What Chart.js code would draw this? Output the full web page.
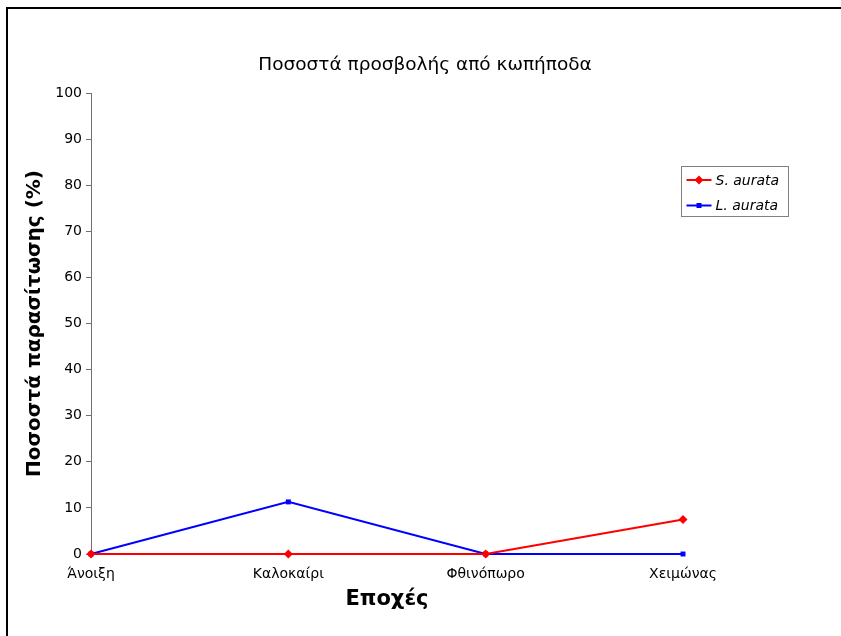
<!DOCTYPE html>
<html>
<head>
<meta charset="utf-8">
<script src="https://cdn.jsdelivr.net/npm/chart.js@4.4.1/dist/chart.umd.min.js"></script>
<style>
  html, body { margin: 0; padding: 0; background: #fff; overflow: hidden; }
  #wrap { position: relative; width: 841px; height: 636px; }
  #frame { position: absolute; left: 6px; top: 7px; width: 900px; height: 700px; border: 2px solid #000; }
  #chart { position: absolute; left: 0; top: 0; }
</style>
</head>
<body>
<div id="wrap">
  <div id="frame"></div>
  <canvas id="chart" width="841" height="636"></canvas>
</div>
<script>
const seasons = ['Άνοιξη', 'Καλοκαίρι', 'Φθινόπωρο', 'Χειμώνας'];
const sAurata = [0, 0, 0, 7.5];
const lAurata = [0, 11.3, 0, 0];
const seriesNames = ['S. aurata', 'L. aurata'];

const FONT = 'DejaVu Sans, Verdana, sans-serif';

// legend in a box at the right of the plot, like the excel one
const boxLegend = {
    id: 'boxLegend',
    afterDraw(chart) {
        const ctx = chart.ctx;
        const area = chart.chartArea;
        const x = area.right - 1.5, y = area.top + 73.5;
        const w = 107, h = 50;
        ctx.save();
        ctx.fillStyle = '#fff';
        ctx.fillRect(x, y, w, h);
        ctx.strokeStyle = '#808080';
        ctx.lineWidth = 1;
        ctx.strokeRect(x, y, w, h);
        chart.data.datasets.forEach((ds, i) => {
            const ly = y + 13.5 + i * 25.5;
            ctx.strokeStyle = ds.borderColor;
            ctx.lineWidth = 2;
            ctx.beginPath();
            ctx.moveTo(x + 5, ly);
            ctx.lineTo(x + 30, ly);
            ctx.stroke();
            ctx.fillStyle = ds.borderColor;
            const cx = x + 17.5;
            if (ds.pointStyle === 'rectRot') {
                ctx.beginPath();
                ctx.moveTo(cx, ly - 4.5);
                ctx.lineTo(cx + 4.5, ly);
                ctx.lineTo(cx, ly + 4.5);
                ctx.lineTo(cx - 4.5, ly);
                ctx.closePath();
                ctx.fill();
            } else {
                ctx.fillRect(cx - 2.5, ly - 2.5, 5, 5);
            }
            ctx.fillStyle = '#000';
            ctx.font = 'italic 14px ' + FONT;
            ctx.textBaseline = 'middle';
            ctx.textAlign = 'left';
            ctx.fillText(ds.label, x + 34, ly + 1);
        });
        ctx.restore();
    }
};

new Chart(document.getElementById('chart'), {
    type: 'line',
    data: {
        labels: seasons,
        datasets: [
            {
                label: seriesNames[0],
                data: sAurata,
                borderColor: '#ff0000',
                backgroundColor: '#ff0000',
                borderWidth: 2,
                pointStyle: 'rectRot',
                pointRadius: 4.5,
                pointBorderWidth: 0,
                tension: 0,
                clip: false
            },
            {
                label: seriesNames[1],
                data: lAurata,
                borderColor: '#0000ff',
                backgroundColor: '#0000ff',
                borderWidth: 2,
                pointStyle: 'rect',
                pointRadius: 3.5,
                pointBorderWidth: 0,
                tension: 0,
                clip: false
            }
        ]
    },
    options: {
        responsive: false,
        animation: false,
        layout: { padding: { left: 9, right: 0, top: 0, bottom: 0 } },
        plugins: {
            legend: { display: false },
            tooltip: { enabled: false },
            title: {
                display: true,
                text: 'Ποσοστά προσβολής από κωπήποδα',
                color: '#000',
                font: { family: FONT, size: 18.5, weight: 'normal' },
                padding: { top: 54, bottom: 16.8 }
            }
        },
        scales: {
            x: {
                type: 'category',
                offset: false,
                afterFit: s => { s.height = 82; },
                grid: { drawOnChartArea: false, drawTicks: false },
                border: { display: true, color: '#000', width: 1 },
                ticks: { color: '#000', padding: 12, maxRotation: 0, autoSkip: false, font: { family: FONT, size: 14 } },
                title: {
                    display: true,
                    text: 'Εποχές',
                    color: '#000',
                    font: { family: FONT, size: 21, weight: 'bold' },
                    padding: { top: 0, bottom: 23.4 }
                }
            },
            y: {
                min: 0,
                max: 100,
                afterFit: s => { s.width = 82; },
                grid: { drawOnChartArea: false, drawTicks: true, tickLength: 5, color: '#707070' },
                border: { display: true, color: '#707070', width: 1 },
                ticks: { stepSize: 10, color: '#000', padding: 4, font: { family: FONT, size: 14 } },
                title: {
                    display: true,
                    text: 'Ποσοστά παρασίτωσης (%)',
                    color: '#000',
                    font: { family: FONT, size: 20, weight: 'bold' },
                    padding: { top: 14, bottom: 0 }
                }
            },
            // empty right axis: only keeps room for the legend box
            yr: {
                position: 'right',
                afterFit: s => { s.width = 158; },
                grid: { display: false },
                border: { display: false },
                ticks: { display: false }
            }
        }
    },
    plugins: [boxLegend]
});
</script>
</body>
</html>
